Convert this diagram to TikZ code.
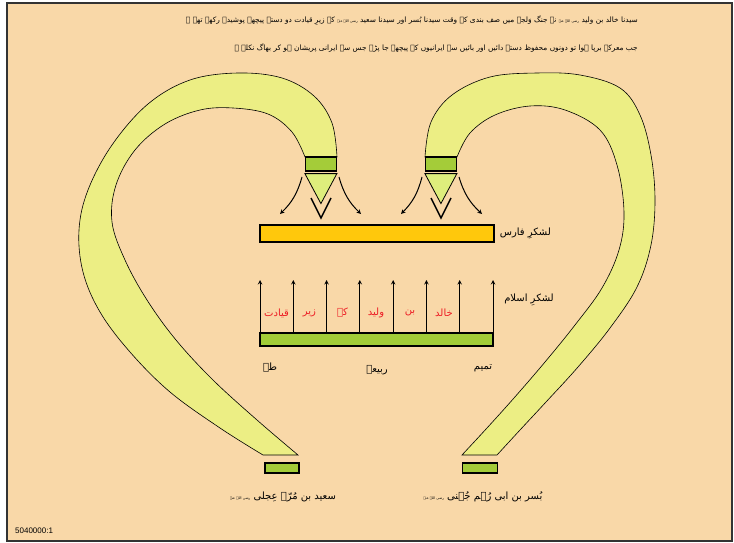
\documentclass[tikz,border=0pt]{standalone}
\usepackage{fontspec}
\usepackage{xcolor}
\usepackage{tikz}
\usetikzlibrary{arrows,positioning,calc}
\setmainfont{Liberation Sans}
\newfontfamily\urdufont[Script=Arabic]{DejaVu Sans}
\TeXXeTstate=1
\definecolor{paper}{RGB}{249,216,168}
\definecolor{bandcolor}{RGB}{236,238,132}
\definecolor{boxgreen}{RGB}{164,204,57}
\definecolor{wedgecolor}{RGB}{222,238,124}
\definecolor{farscolor}{RGB}{255,200,12}
\definecolor{islamcolor}{RGB}{162,204,56}
\definecolor{urdured}{RGB}{237,28,36}
\newcommand{\ur}[1]{{\urdufont\beginR #1\endR}}
\newcommand{\razi}{{\fontsize{3.5}{4}\selectfont رضی اللہ عنہ}}

\begin{document}
\begin{tikzpicture}[
    x=1pt, y=-1pt,
    frame/.style={draw=black!80, line width=1.5pt, fill=paper},
    band/.style={draw=black, line width=0.6pt, fill=bandcolor},
    endbox/.style={rectangle, draw=black, line width=1.2pt, fill=boxgreen, inner sep=0pt},
    wedge/.style={draw=black, line width=0.8pt, fill=wedgecolor},
    chevron/.style={draw=black, line width=1.4pt},
    bar/.style={rectangle, draw=black, line width=1.3pt, inner sep=0pt},
    arrow/.style={->, >=stealth, line width=1pt},
    urdutext/.style={font=\urdufont\fontsize{10}{11}\selectfont, inner sep=1pt},
    redtext/.style={urdutext, text=urdured}
]
\useasboundingbox (0,0) rectangle (734,543);

% Frame
\draw[frame] (7,3) rectangle (732,541);

% Title text
\node[urdutext, anchor=east, font=\urdufont\fontsize{7.4}{8}\selectfont] (line1) at (639,21) {\ur{سیدنا خالد بن ولید \razi{} نے جنگ وَلجہ میں صف بندی کے وقت سیدنا بُسر اور سیدنا سعید \razi{} کے زیرِ قیادت دو دستے پیچھے پوشیدہ رکھے تھے ۔}};
\node[urdutext, anchor=east, font=\urdufont\fontsize{7.4}{8}\selectfont] (line2) at (639,48) {\ur{جب معرکہ برپا ہوا تو دونوں محفوظ دستے دائیں اور بائیں سے ایرانیوں کے پیچھے جا پڑے جس سے ایرانی پریشان ہو کر بھاگ نکلے ۔}};

% Left band
\draw[band] plot[smooth, tension=0.6] coordinates {(337,157) (332,123) (314,96) (282,78) (238,73) (190,80) (148,104) (112,145) (88,190) (79,230) (83,272) (100,312) (130,352) (170,392) (220,428) (263,455)}
  -- plot[smooth, tension=0.6] coordinates {(298,455) (257,420) (213,380) (176,340) (147,300) (125,260) (112,222) (116,185) (135,150) (165,124) (200,110) (233,108) (268,114) (292,132) (305,157)} -- cycle;

% Right band
\draw[band] plot[smooth, tension=0.6] coordinates {(425,157) (431,122) (452,95) (490,77) (537,73) (580,75) (620,88) (640,115) (651,155) (655,200) (651,245) (637,287) (610,328) (578,367) (546,402) (520,430) (497,455)}
  -- plot[smooth, tension=0.6] coordinates {(462,455) (487,428) (514,398) (545,362) (575,325) (602,288) (619,250) (624,212) (617,165) (600,130) (565,110) (530,106) (495,115) (470,133) (457,157)} -- cycle;

% End boxes
\node[endbox, minimum width=31pt, minimum height=14pt] (topL) at (321,164) {};
\node[endbox, minimum width=31pt, minimum height=14pt] (topR) at (441,164) {};
\node[endbox, minimum width=34pt, minimum height=10pt] (botL) at (282,468) {};
\node[endbox, minimum width=35pt, minimum height=10pt] (botR) at (480,468) {};

% Wedges
\draw[wedge] (topL.south west) ++(0,2) coordinate (wLa) -- ++(32,0) coordinate (wLb) -- ++(-16,30) coordinate (wLc) -- cycle;
\draw[wedge] (topR.south west) ++(0,2) coordinate (wRa) -- ++(32,0) coordinate (wRb) -- ++(-16,30) coordinate (wRc) -- cycle;
\draw[chevron] (311,198) -- (321,218) -- (331,198);
\draw[chevron] (431,198) -- (441,218) -- (451,198);

% Flank arrows
\coordinate (sL1) at (302,177); \coordinate (eL1) at (280,214);
\coordinate (sL2) at (339,177); \coordinate (eL2) at (361,214);
\coordinate (sR1) at (422,177); \coordinate (eR1) at (401,214);
\coordinate (sR2) at (459,177); \coordinate (eR2) at (482,214);
\draw[arrow] (sL1) to[bend left=15] (eL1);
\draw[arrow] (sL2) to[bend right=15] (eL2);
\draw[arrow] (sR1) to[bend left=15] (eR1);
\draw[arrow] (sR2) to[bend right=15] (eR2);

% Persian army
\node[bar, fill=farscolor, minimum width=234pt, minimum height=17pt] (farsbar) at (377,233.5) {};
\node[urdutext, right=4pt of farsbar] (fars) {\ur{لشکرِ فارس}};

% Muslim army
\node[bar, fill=islamcolor, minimum width=233pt, minimum height=13pt] (islambar) at (376.5,339.5) {};
\node[urdutext] (islam) at (529,300) {\ur{لشکرِ اسلام}};
\foreach \i in {0,...,7} {
  \coordinate (tip\i) at (260+\i*33.29,280);
  \draw[arrow] (tip\i |- islambar.north) -- (tip\i);
}

% Khalid's line
\node[redtext] (w1) at (444,313) {\ur{خالد}};
\node[redtext] (w2) at (410,313) {\ur{بن}};
\node[redtext] (w3) at (376,313) {\ur{ولید}};
\node[redtext] (w4) at (342.5,313) {\ur{کے}};
\node[redtext] (w5) at (309.5,313) {\ur{زیر}};
\node[redtext] (w6) at (276.5,313) {\ur{قیادت}};

% Tribes
\node[urdutext] (tayy) at (270,368) {\ur{طے}};
\node[urdutext] (rabia) at (377,370) {\ur{ربیعہ}};
\node[urdutext] (tamim) at (483,368) {\ur{تمیم}};

% Commanders
\node[urdutext] (saeed) at (283,497) {\ur{سعید بن مُرّہ عِجلی \razi{}}};
\node[urdutext] (busr) at (483,497) {\ur{بُسر بن ابی رُہم جُہنی \razi{}}};

% Scale
\node[anchor=west, font=\fontsize{8}{9}\selectfont, inner sep=0pt] (scale) at (15,531) {5040000:1};

\end{tikzpicture}
\end{document}
